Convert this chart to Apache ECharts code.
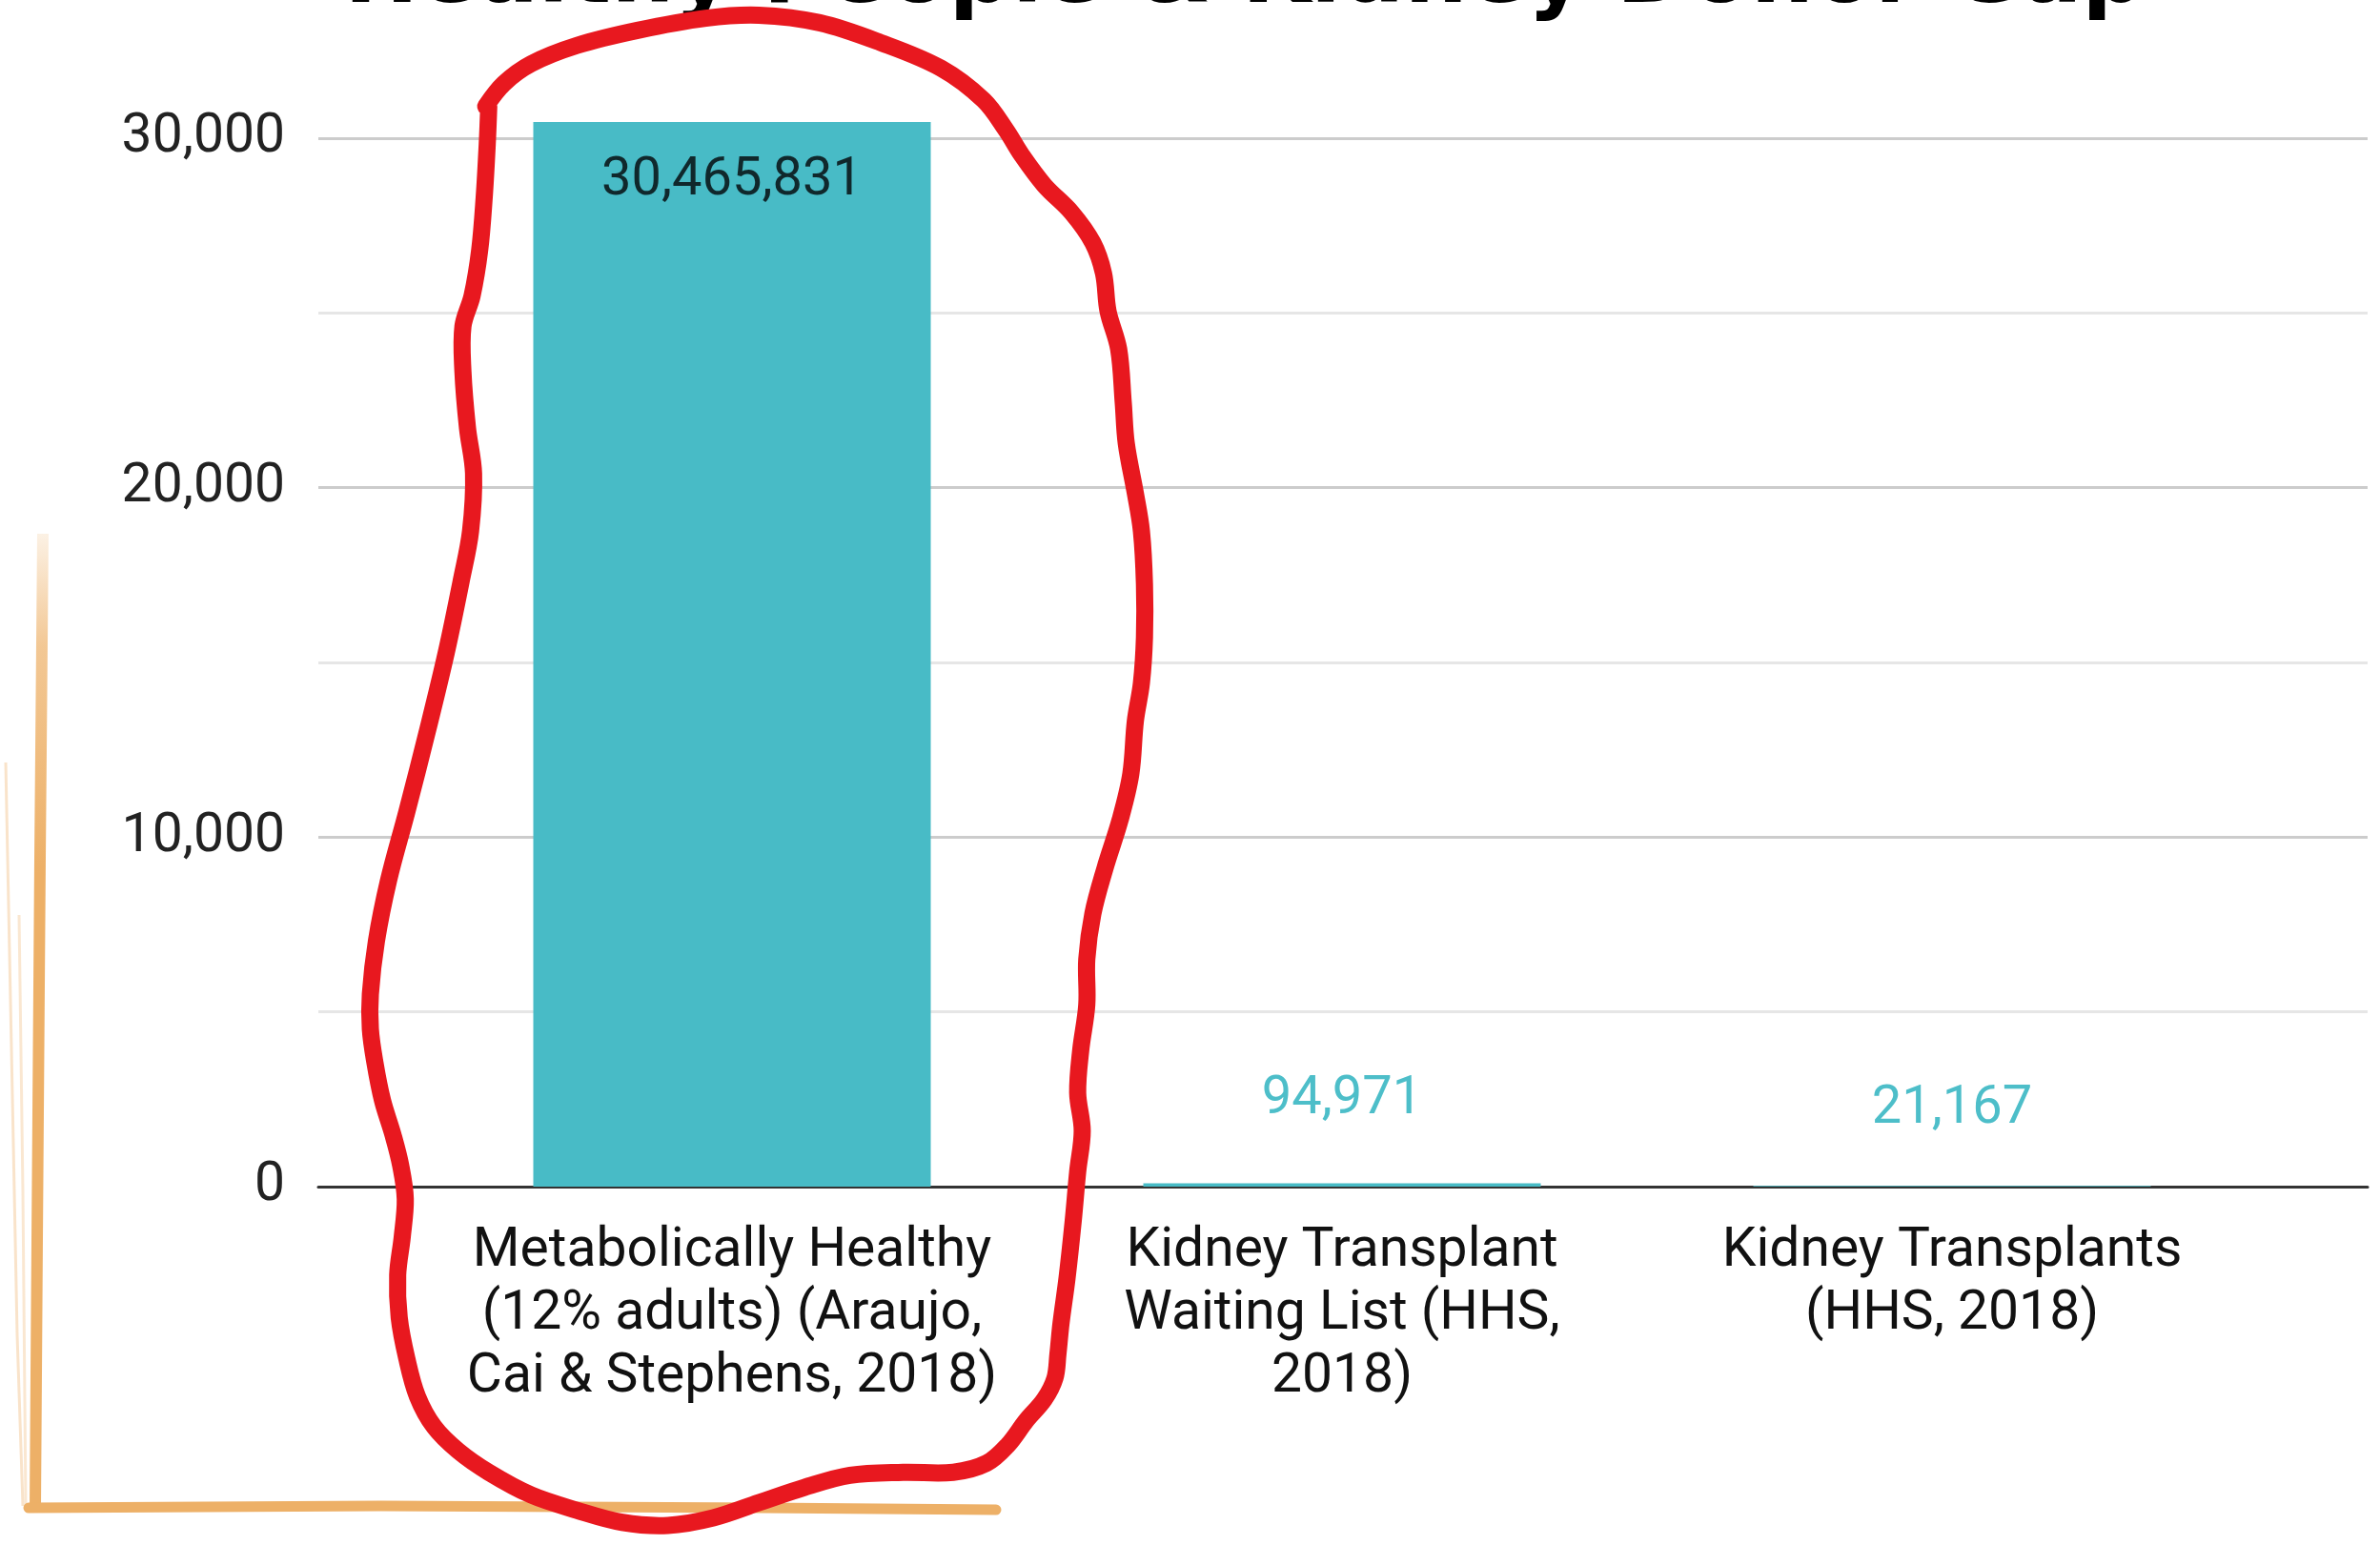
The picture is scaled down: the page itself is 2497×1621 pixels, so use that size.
<!DOCTYPE html>
<html>
<head>
<meta charset="utf-8">
<script src="https://cdn.jsdelivr.net/npm/echarts@6/dist/echarts.min.js"></script>
<style>
  html, body { margin: 0; padding: 0; background: #fff; }
  #chart { width: 2497px; height: 1621px; }
</style>
</head>
<body>
<div id="chart"></div>
<script>
// data
var categories = [
	"Metabolically Healthy\n(12% adults) (Araujo,\nCai & Stephens, 2018)",
	"Kidney Transplant\nWaiting List (HHS,\n2018)",
	"Kidney Transplants\n(HHS, 2018)"
];
var values = [30465831, 94971, 21167];
var yTicks = [0, 10000000, 20000000, 30000000];
var title = "Healthy People & Kidney Donor Gap";

var teal = "#48bbc6";
var font = "Roboto";

// hand drawn marks on top of the chart (shrunk picture coords, scaled later)
var loop = [
	[320, 70], [332, 55], [350, 42], [380, 30], [420, 20], [465, 12], [500, 10], [540, 15],
	[580, 28], [620, 45], [648, 66], [663, 86], [673, 102], [688, 122], [706, 140], [720, 160],
	[727, 180], [730, 205], [737, 230], [740, 265], [742, 292], [748, 325], [752, 350],
	[754, 385], [754, 420], [752, 450], [748, 475], [745, 510], [738, 540], [728, 572],
	[720, 602], [716, 632], [716, 662], [712, 692], [710, 720], [713, 745], [710, 772],
	[707, 805], [703, 842], [699, 872], [697, 892], [695, 908], [688, 922], [676, 936],
	[664, 952], [650, 964], [628, 970], [595, 970], [560, 972], [530, 980], [500, 990],
	[470, 1000], [440, 1005], [410, 1003], [380, 995], [350, 985], [322, 970], [302, 956],
	[286, 940], [275, 920], [268, 895], [263, 868], [262, 840], [265, 815], [267, 790],
	[264, 768], [259, 748], [252, 725], [247, 700], [244, 678], [244, 655], [248, 620],
	[256, 580], [268, 535], [282, 480], [294, 430], [304, 382], [310, 350], [312, 312],
	[308, 282], [305, 245], [305, 215], [311, 195], [316, 165], [319, 130], [321, 95], [322, 70]
];
var k = 2497 / 1568;
var loopPts = loop.map(function (p) { return [p[0] * k, p[1] * k]; });

var chart = echarts.init(document.getElementById("chart"));

var fmtAxis = function (v) { return (v / 1000).toLocaleString("en-US"); };
var orange = function (a) { return "rgba(237,176,103," + a + ")"; };
var labelGap = [34, 60, 52];

var option = {
	backgroundColor: "#ffffff",
	animation: false,
	textStyle: { fontFamily: font },
	grid: [
		{ left: 334, right: 13, top: 145, bottom: 376 },
		{ left: 448, right: 129, top: 145, bottom: 376 }
	],
	xAxis: [
		{
			type: "category", gridIndex: 0, data: [""],
			axisLine: { show: true, lineStyle: { color: "#333333", width: 3 } },
			axisTick: { show: false }, axisLabel: { show: false }, splitLine: { show: false }
		},
		{
			type: "category", gridIndex: 1, data: categories,
			axisLine: { show: false }, axisTick: { show: false },
			axisLabel: {
				margin: 36, color: "#111111", fontSize: 57, lineHeight: 66,
				fontFamily: font, interval: 0
			}
		}
	],
	yAxis: [
		{
			type: "value", gridIndex: 0, min: yTicks[0], max: yTicks[yTicks.length - 1],
			interval: yTicks[1] - yTicks[0],
			axisLine: { show: false }, axisTick: { show: false },
			axisLabel: {
				margin: 35, color: "#222222", fontSize: 57, fontFamily: font,
				padding: [8, 0, 0, 0], formatter: fmtAxis
			},
			splitLine: { show: true, lineStyle: { color: "#cccccc", width: 3 } },
			minorTick: { show: false, splitNumber: 2 },
			minorSplitLine: { show: true, lineStyle: { color: "#e6e6e6", width: 3 } }
		},
		{
			type: "value", gridIndex: 1, min: yTicks[0], max: yTicks[yTicks.length - 1],
			show: false, splitLine: { show: false }
		}
	],
	series: [
		{
			type: "bar",
			xAxisIndex: 1, yAxisIndex: 1,
			barWidth: 417,
			clip: false,
			itemStyle: { color: teal },
			z: 3,
			data: values.map(function (v, i) {
				var inside = i === 0;
				return {
					value: v,
					label: {
						show: true,
						position: inside ? "insideTop" : "top",
						distance: labelGap[i],
						color: inside ? "#10282c" : "#4dbec9",
						fontSize: 56,
						fontFamily: font,
						formatter: function (p) { return p.value.toLocaleString("en-US"); }
					}
				};
			})
		}
	],
	graphic: [
		{
			type: "text", x: 1306, y: 24,
			style: {
				text: title, fill: "#000", font: "bold 93px 'DejaVu Sans'",
				align: "center", verticalAlign: "bottom"
			},
			z: 50
		},
		{
			type: "polyline", z: 60,
			shape: { points: loopPts, smooth: 0.35 },
			style: { stroke: "#e8181f", lineWidth: 18, fill: null, lineCap: "round", lineJoin: "round" }
		},
		{
			type: "polyline", z: 55,
			shape: { points: [[45, 560], [42, 900], [39, 1300], [37, 1582]] },
			style: {
				fill: null, lineWidth: 12, lineCap: "butt",
				stroke: new echarts.graphic.LinearGradient(0, 0, 0, 1, [
					{ offset: 0, color: orange(0.15) },
					{ offset: 0.12, color: orange(0.7) },
					{ offset: 0.35, color: orange(1) },
					{ offset: 1, color: orange(1) }
				])
			}
		},
		{
			type: "polyline", z: 55,
			shape: { points: [[6, 800], [12, 1100], [18, 1400], [24, 1580]] },
			style: { fill: null, lineWidth: 3, stroke: orange(0.35) }
		},
		{
			type: "polyline", z: 55,
			shape: { points: [[20, 960], [24, 1250], [27, 1580]] },
			style: { fill: null, lineWidth: 3, stroke: orange(0.3) }
		},
		{
			type: "polyline", z: 55,
			shape: { points: [[30, 1582], [400, 1580], [800, 1582], [1045, 1584]] },
			style: { fill: null, lineWidth: 11, stroke: "#edb067", lineCap: "round" }
		}
	]
};

chart.setOption(option);
</script>
</body>
</html>
